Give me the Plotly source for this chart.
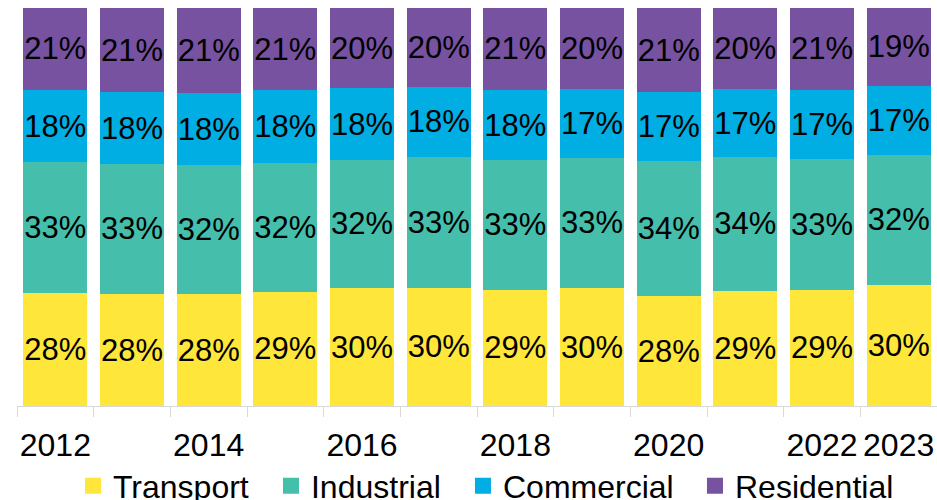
import plotly.graph_objects as go

years = ["2012", "2013", "2014", "2015", "2016", "2017", "2018", "2019", "2020", "2021", "2022", "2023"]
tick_labels = ["2012", "", "2014", "", "2016", "", "2018", "", "2020", "", "2022", "2023"]

transport = [28.3, 28.1, 28.1, 28.7, 29.6, 29.7, 29.2, 29.6, 27.6, 29.0, 29.2, 30.2]
industrial = [33.0, 32.8, 32.4, 32.4, 32.3, 32.9, 32.6, 32.8, 34.0, 33.6, 32.8, 32.4]
commercial = [18.1, 17.9, 18.1, 18.2, 17.9, 17.6, 17.6, 17.2, 17.2, 17.0, 17.4, 17.2]
residential = [20.6, 21.2, 21.4, 20.7, 20.2, 19.8, 20.6, 20.4, 21.2, 20.4, 20.6, 19.4]

series = [
    ("Transport", transport, "#FFE63B"),
    ("Industrial", industrial, "#45BEAC"),
    ("Commercial", commercial, "#00AEE3"),
    ("Residential", residential, "#7652A1"),
]
legend_ids = ["legend", "legend2", "legend3", "legend4"]
legend_x = [0.0779, 0.2892, 0.4941, 0.7417]

FONT = "Liberation Sans, Arial, sans-serif"

fig = go.Figure()
for name, vals, col in series:
    fig.add_trace(go.Bar(
        x=years, y=vals, name=name,
        marker=dict(color=col, line=dict(width=0)),
        text=[f"{v:.0f}%" for v in vals],
        textposition="inside", insidetextanchor="middle",
        textangle=0, constraintext="none",
        textfont=dict(family=FONT, size=31, color="black"),
        showlegend=False, hoverinfo="skip",
    ))
for (name, vals, col), lid in zip(series, legend_ids):
    fig.add_trace(go.Scatter(
        x=[None], y=[None], mode="markers", name=name,
        marker=dict(symbol="square", size=17, color=col),
        showlegend=True, legend=lid,
    ))

legend_common = dict(orientation="h", xanchor="left", xref="container",
                     y=0.028, yanchor="middle", yref="container",
                     font=dict(family=FONT, size=32, color="black"),
                     itemclick=False, itemdoubleclick=False,
                     bgcolor="rgba(0,0,0,0)")

fig.update_layout(
    width=937, height=500,
    barmode="stack", barnorm="percent", bargap=0.167,
    margin=dict(l=17, r=0, t=8, b=94, autoexpand=False),
    paper_bgcolor="white", plot_bgcolor="white",
    font=dict(family=FONT, size=31, color="black"),
    showlegend=True,
    hovermode=False,
    xaxis=dict(
        type="category", tickmode="array", tickvals=years, ticktext=tick_labels,
        tickson="boundaries", ticks="outside", ticklen=10, tickcolor="#D9D9D9",
        tickangle=0, automargin=False, ticklabelstandoff=11,
        showline=True, linecolor="#D9D9D9", linewidth=1,
        showgrid=False, tickfont=dict(family=FONT, size=32, color="black"),
    ),
    yaxis=dict(range=[0, 100], visible=False, showgrid=False),
)
for lid, lx in zip(legend_ids, legend_x):
    fig.update_layout({lid: dict(x=lx, **legend_common)})

fig.write_html("out.html",
               config={"displayModeBar": False},
               post_script="document.body.style.margin='0';document.body.style.overflow='hidden';")
